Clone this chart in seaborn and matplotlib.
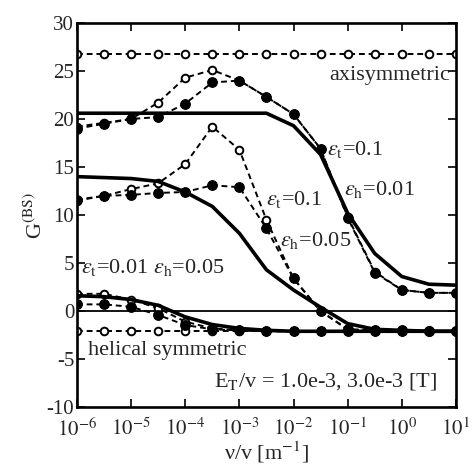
import numpy as np
import pandas as pd
import matplotlib
matplotlib.use("Agg")
import matplotlib.pyplot as plt
import seaborn as sns

# nu/v grid, half-decade steps
nu_v = [1e-6, 3.16e-6, 1e-5, 3.16e-5, 1e-4, 3.16e-4, 1e-3, 3.16e-3,
        1e-2, 3.16e-2, 1e-1, 3.16e-1, 1e0, 3.16e0, 1e1]

axisym = [26.8] * 15
helical = [-2.1] * 15

# eps_t=0.1, eps_h=0.01
up_open = [19.2, 19.6, 20.0, 21.7, 24.3, 25.1, 24.0, 22.3, 20.5, 16.9, 9.8, 4.1, 2.2, 1.9, 1.9]
up_fill = [19.0, 19.5, 20.0, 20.2, 21.6, 23.8, 24.0, 22.3, 20.5, 16.9, 9.7, 4.0, 2.2, 1.9, 1.9]
up_line = [20.6, 20.6, 20.6, 20.6, 20.6, 20.6, 20.6, 20.6, 19.3, 16.3, 10.2, 6.0, 3.6, 2.8, 2.7]

# eps_t=0.1, eps_h=0.05
mid_open = [11.5, 12.0, 12.7, 13.3, 15.3, 19.2, 16.8, 9.5, 3.4, 0.0, -1.9, -2.0, -2.0, -2.1, -2.1]
mid_fill = [11.6, 12.0, 12.1, 12.3, 12.4, 13.1, 12.9, 8.6, 3.4, 0.0, -1.9, -2.0, -2.0, -2.1, -2.1]
mid_line = [14.0, 13.9, 13.8, 13.5, 12.4, 10.9, 8.1, 4.3, 2.2, 0.4, -1.3, -1.9, -2.0, -2.1, -2.1]

# eps_t=0.01, eps_h=0.05
lo_open = [1.8, 1.8, 1.2, 0.3, -1.1, -1.8, -2.0, -2.1, -2.1, -2.1, -2.1, -2.1, -2.1, -2.1, -2.1]
lo_fill = [0.7, 0.7, 0.45, -0.4, -1.45, -1.9, -2.0, -2.1, -2.1, -2.1, -2.1, -2.1, -2.1, -2.1, -2.1]
lo_line = [1.6, 1.5, 1.2, 0.6, -0.6, -1.4, -1.8, -2.0, -2.1, -2.1, -2.1, -2.1, -2.1, -2.1, -2.1]

sns.set_theme(style="ticks")
plt.rcParams['font.family'] = ['Liberation Serif', 'DejaVu Serif']
plt.rcParams['mathtext.fontset'] = 'stix'
plt.rcParams['axes.unicode_minus'] = False

fig = plt.figure(figsize=(4.72, 4.68), dpi=100)
ax = fig.add_axes([0.163, 0.130, 0.803, 0.821])

dash = (0, (3, 2))
open_kw = dict(marker='o', markersize=5.5, markerfacecolor='white',
               markeredgecolor='black', markeredgewidth=1.4)
fill_kw = dict(marker='o', markersize=7, markerfacecolor='black',
               markeredgecolor='black')

ax.axhline(0, color='black', lw=1.3)

for ys in [axisym, helical, up_open, mid_open, lo_open]:
    sns.lineplot(x=nu_v, y=ys, ax=ax, color='black', lw=1.4,
                 linestyle=dash, **open_kw)
for ys in [up_fill, mid_fill, lo_fill]:
    sns.lineplot(x=nu_v, y=ys, ax=ax, color='black', lw=1.4,
                 linestyle=dash, **fill_kw)
for ys in [up_line, mid_line, lo_line]:
    sns.lineplot(x=nu_v, y=ys, ax=ax, color='black', lw=2.6)

ax.set_xscale('log')
ax.set_xlim(1e-6, 1e1)
ax.set_ylim(-10, 30)
ax.set_yticks(range(-10, 31, 5))
ax.set_xticks([1e-6, 1e-5, 1e-4, 1e-3, 1e-2, 1e-1, 1e0, 1e1])
ax.set_xticklabels([r'$10^{%d}$' % e for e in range(-6, 2)])
ax.tick_params(axis='both', which='both', direction='in', top=True, right=True,
               labelsize=15, color='black')
ax.tick_params(axis='y', pad=2)
ax.tick_params(axis='x', pad=8)
ax.tick_params(which='major', length=6, width=1.2)
ax.tick_params(which='minor', length=3, width=1.0)
for s in ax.spines.values():
    s.set_linewidth(1.9)
    s.set_color('black')

ax.set_ylabel(r'G$^{\rm (BS)}$', fontsize=16, labelpad=0)
ax.set_xlabel(r'ν/v [m$^{-1}$]', fontsize=16, labelpad=-1)

fs = 16
ax.text(0.985, 0.852, 'axisymmetric', transform=ax.transAxes, ha='right', fontsize=fs)
ax.text(0.66, 0.655, r'$\varepsilon_{\rm t}$=0.1', transform=ax.transAxes, fontsize=fs)
ax.text(0.705, 0.552, r'$\varepsilon_{\rm h}$=0.01', transform=ax.transAxes, fontsize=fs)
ax.text(0.50, 0.526, r'$\varepsilon_{\rm t}$=0.1', transform=ax.transAxes, fontsize=fs)
ax.text(0.535, 0.42, r'$\varepsilon_{\rm h}$=0.05', transform=ax.transAxes, fontsize=fs)
ax.text(0.012, 0.349, r'$\varepsilon_{\rm t}$=0.01 $\varepsilon_{\rm h}$=0.05',
        transform=ax.transAxes, fontsize=fs)
ax.text(0.03, 0.137, 'helical symmetric', transform=ax.transAxes, fontsize=fs)
ax.text(0.95, 0.055, r'E$_{\rm T}$/v = 1.0e-3, 3.0e-3 [T]', transform=ax.transAxes,
        ha='right', fontsize=fs)

fig.savefig('out.png', dpi=100)
